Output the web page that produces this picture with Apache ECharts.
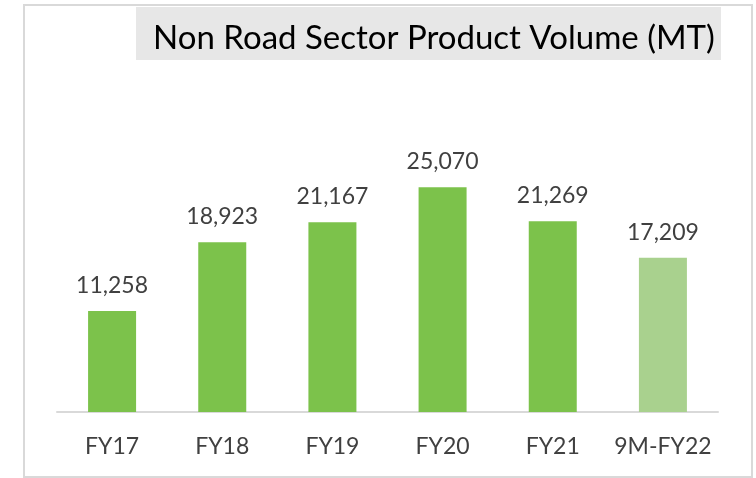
<!DOCTYPE html>
<html>
<head>
<meta charset="utf-8">
<style>html,body{margin:0;padding:0;background:#fff;}#c{width:756px;height:478px;}</style>
<script src="https://cdn.jsdelivr.net/npm/echarts@6/dist/echarts.min.js"></script>
</head>
<body>
<div id="c"></div>
<script>
const categories = ["FY17", "FY18", "FY19", "FY20", "FY21", "9M-FY22"];
const volumes = [11258, 18923, 21167, 25070, 21269, 17209];
const barColors = ["#7CC24B", "#7CC24B", "#7CC24B", "#7CC24B", "#7CC24B", "#A9D18E"];
const titleText = "Non Road Sector Product Volume (MT)";

const chart = echarts.init(document.getElementById('c'));
chart.setOption({
  animation: false,
  backgroundColor: '#ffffff',
  graphic: [
    { type: 'rect', z: 0, shape: { x: 24, y: 5, width: 728, height: 472 },
      style: { fill: 'none', stroke: '#d9d9d9', lineWidth: 2 } },
    { type: 'rect', z: 0, shape: { x: 136, y: 7, width: 585, height: 53 },
      style: { fill: '#e7e7e7' } }
  ],
  title: {
    text: titleText,
    left: 429, top: 33, textAlign: 'center', textVerticalAlign: 'middle',
    textStyle: { fontFamily: 'Lato', fontSize: 33, fontWeight: 'normal', color: '#000000' }
  },
  grid: { left: 57, right: 38, top: 143, bottom: 66 },
  xAxis: {
    type: 'category', data: categories,
    axisLine: { lineStyle: { color: '#d9d9d9', width: 2 } },
    axisTick: { show: false },
    axisLabel: { interval: 0, fontFamily: 'Lato', fontSize: 23, color: '#404040', margin: 23 }
  },
  yAxis: { type: 'value', min: 0, max: 30000, show: false, splitLine: { show: false } },
  series: [{
    type: 'bar', barWidth: 48,
    data: volumes.map((v, i) => ({ value: v, itemStyle: { color: barColors[i] } })),
    label: {
      show: true, position: 'top', distance: 14,
      fontFamily: 'Lato', fontSize: 23, color: '#404040',
      formatter: p => p.value.toLocaleString('en-US')
    }
  }]
});
</script>
</body>
</html>
